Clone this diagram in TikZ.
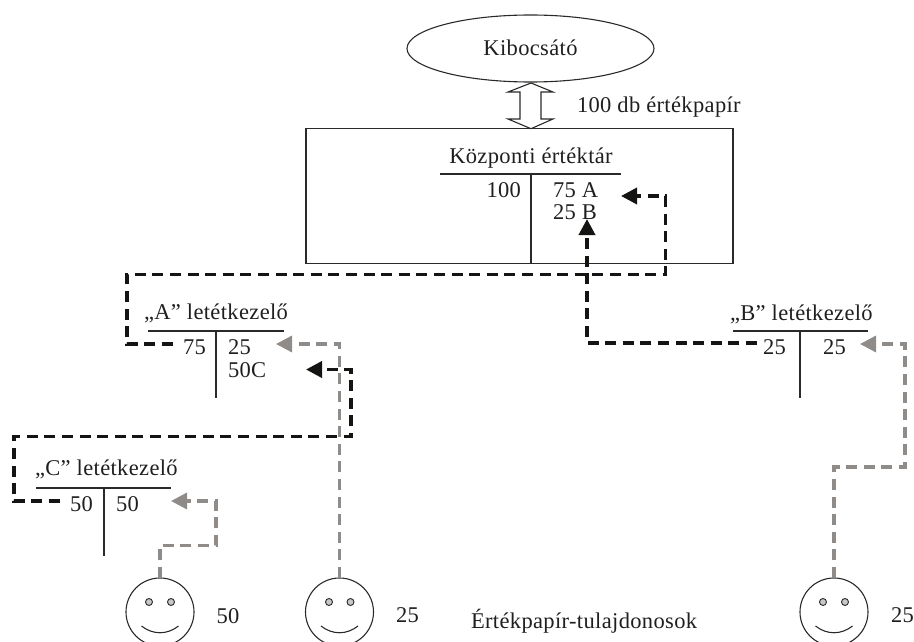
\documentclass[tikz,border=0pt]{standalone}
\usepackage{fontspec}
\setmainfont[LetterSpace=1.6]{Liberation Serif}
\usetikzlibrary{arrows.meta,shapes.geometric}
\definecolor{flowblack}{HTML}{141412}
\definecolor{flowgrey}{HTML}{8E8B89}
\definecolor{inkline}{HTML}{2A2A28}
\tikzset{
  lbl/.style={inner sep=0pt,outer sep=0pt,anchor=base west,text=black!88,font=\fontsize{22.5}{26}\selectfont},
  thinline/.style={draw=inkline,line width=1.1pt},
  blackflow/.style={draw=flowblack,line width=3.6pt,dash pattern=on 11pt off 6.6pt,-{Triangle[length=16pt,width=16pt]}},
  greyflow/.style={draw=flowgrey,line width=3.3pt,dash pattern=on 11pt off 6.6pt,-{Triangle[length=16pt,width=16pt]}},
  smiley/.style={circle,draw=inkline,line width=1.1pt,minimum size=68pt,inner sep=0pt,outer sep=0pt},
  eyedot/.style={circle,draw=inkline,fill=black!22,line width=0.9pt,minimum size=7pt,inner sep=0pt},
  issuer/.style={ellipse,draw=inkline,line width=1.1pt,minimum width=247pt,minimum height=67pt,inner sep=0pt,outer sep=0pt},
  vault/.style={rectangle,draw=inkline,line width=1.1pt,minimum width=427pt,minimum height=134.5pt,inner sep=0pt,outer sep=0pt},
}
\begin{document}
\begin{tikzpicture}[x=1pt,y=-1pt]
\useasboundingbox (0,0) rectangle (914,642);
\clip (0,0) rectangle (914,642);
% issuer and vault
\node[issuer] (kib) at (530.5,48.5) {};
\node[lbl,anchor=base] (kibt) at (530.5,56) {Kibocsátó};
\node[vault] (kv) at (519.5,196) {};
\draw[thinline,fill=white] (531,83) -- (553,92) -- (541,92) -- (541,119) -- (553,119) -- (531,128.7) -- (508,119) -- (520,119) -- (520,92) -- (508,92) -- cycle;
\node[lbl] (db) at (577,113) {100 db értékpapír};
% central account
\node[lbl,anchor=base] (kvt) at (531,163) {Központi értéktár};
\coordinate (kvl) at (440,174);
\coordinate (kvr) at (621,174);
\coordinate (kvm) at (531,174);
\coordinate (kvb) at (531,263);
\draw[thinline] (kvl) -- (kvr);
\draw[thinline] (kvm) -- (kvb);
\node[lbl,anchor=base east] (kv100) at (521,197) {100};
\node[lbl] (kv75) at (553,197) {75 A};
\node[lbl] (kv25) at (553,219.5) {25 B};
% A
\node[lbl] (at) at (144,319) {„A” letétkezelő};
\coordinate (al) at (148,331);
\coordinate (ar) at (284,331);
\coordinate (am) at (216,331);
\coordinate (ab) at (216,398);
\draw[thinline] (al) -- (ar);
\draw[thinline] (am) -- (ab);
\node[lbl] (a75) at (183,354) {75};
\node[lbl] (a25) at (228,354) {25};
\node[lbl] (a50) at (228,377) {50C};
% B
\node[lbl] (bt) at (730,320) {„B” letétkezelő};
\coordinate (bl) at (733,331);
\coordinate (br) at (868,331);
\coordinate (bm) at (800,331);
\coordinate (bb) at (800,398);
\draw[thinline] (bl) -- (br);
\draw[thinline] (bm) -- (bb);
\node[lbl] (b25a) at (763,354) {25};
\node[lbl] (b25b) at (823,354) {25};
% C
\node[lbl] (ct) at (35,475) {„C” letétkezelő};
\coordinate (cl) at (36,488);
\coordinate (cr) at (171,488);
\coordinate (cm) at (104,488);
\coordinate (cb) at (104,556);
\draw[thinline] (cl) -- (cr);
\draw[thinline] (cm) -- (cb);
\node[lbl] (c50a) at (70,511) {50};
\node[lbl] (c50b) at (116,511) {50};
% owners
\node[smiley] (s1) at (160,612) {};
\node[smiley] (s2) at (339.5,612) {};
\node[smiley] (s3) at (834,612) {};
\node[eyedot] (s1e1) at (149,602) {};
\node[eyedot] (s1e2) at (171,602) {};
\node[eyedot] (s2e1) at (329,602) {};
\node[eyedot] (s2e2) at (350.5,602) {};
\node[eyedot] (s3e1) at (823,602) {};
\node[eyedot] (s3e2) at (845,602) {};
\draw[thinline] (141.5,626) .. controls (153,635) and (167,635) .. (178.5,626);
\draw[thinline] (321,626) .. controls (332.5,635) and (346.5,635) .. (358,626);
\draw[thinline] (815.5,626) .. controls (827,635) and (841,635) .. (852.5,626);
\node[lbl] (s1t) at (216.5,623) {50};
\node[lbl] (s2t) at (396,622) {25};
\node[lbl] (s3t) at (891,622) {25};
\node[lbl] (own) at (471,628) {Értékpapír-tulajdonosok};
% black flows
\coordinate (f1s) at (173,344);
\coordinate (f1a) at (127,344);
\coordinate (f1b) at (127,274.5);
\coordinate (f1c) at (665.5,274.5);
\coordinate (f1d) at (665.5,196);
\coordinate (f1e) at (621,196);
\draw[blackflow] (f1s) -- (f1a) -- (f1b) -- (f1c) -- (f1d) -- (f1e);
\coordinate (f2s) at (757,343);
\coordinate (f2a) at (587,343);
\coordinate (f2e) at (587,219);
\draw[blackflow] (f2s) -- (f2a) -- (f2e);
\coordinate (f3s) at (60,501);
\coordinate (f3a) at (14,501);
\coordinate (f3b) at (14,436.5);
\coordinate (f3c) at (351,436.5);
\coordinate (f3d) at (351,369.5);
\coordinate (f3e) at (306,369.5);
\draw[blackflow] (f3s) -- (f3a) -- (f3b) -- (f3c) -- (f3d) -- (f3e);
% grey flows
\coordinate (g1a) at (160,545.5);
\coordinate (g1b) at (216,545.5);
\coordinate (g1c) at (216,501);
\coordinate (g1e) at (171,501);
\draw[greyflow] (s1.north) -- (g1a) -- (g1b) -- (g1c) -- (g1e);
\coordinate (g2a) at (339.5,344);
\coordinate (g2e) at (276,344);
\draw[greyflow] (s2.north) -- (g2a) -- (g2e);
\coordinate (g3a) at (834,467);
\coordinate (g3b) at (905,467);
\coordinate (g3c) at (905,344);
\coordinate (g3e) at (860,344);
\draw[greyflow] (s3.north) -- (g3a) -- (g3b) -- (g3c) -- (g3e);
\end{tikzpicture}
\end{document}
